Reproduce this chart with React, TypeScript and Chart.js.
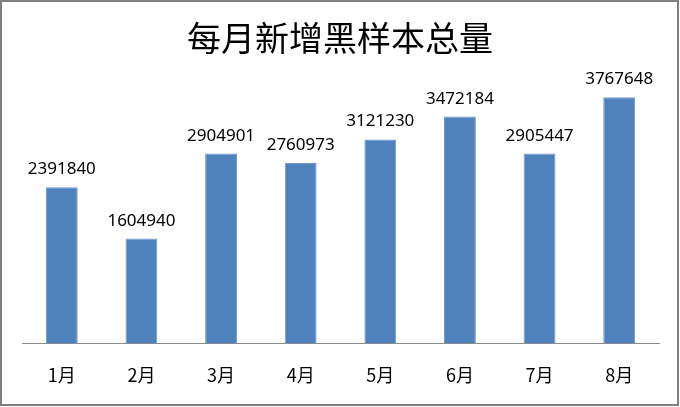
import React, { useEffect, useRef } from "react";
import { Chart, registerables } from "chart.js";

Chart.register(...registerables);

const categories = ["1月", "2月", "3月", "4月", "5月", "6月", "7月", "8月"];
const values = [2391840, 1604940, 2904901, 2760973, 3121230, 3472184, 2905447, 3767648];
const titleText = "每月新增黑样本总量";

const framePlugin = {
  id: "frame",
  beforeDraw(chart: any) {
    const ctx = chart.ctx;
    ctx.save();
    ctx.fillStyle = "#ffffff";
    ctx.fillRect(0, 0, chart.width, chart.height);
    ctx.restore();
  },
  afterDraw(chart: any) {
    const ctx = chart.ctx;
    ctx.save();
    ctx.strokeStyle = "#808080";
    ctx.lineWidth = 2;
    ctx.strokeRect(1, 1, chart.width - 3, chart.height - 3);
    ctx.fillStyle = "#000000";
    ctx.font = '34px "Noto Sans CJK SC"';
    ctx.textAlign = "center";
    ctx.textBaseline = "middle";
    ctx.fillText(titleText, chart.width / 2, 38);
    // data labels
    const meta = chart.getDatasetMeta(0);
    ctx.font = '17px "Noto Sans"';
    ctx.textBaseline = "alphabetic";
    meta.data.forEach((bar: any, i: number) => {
      ctx.fillText(String(values[i]), bar.x, bar.y - 13);
    });
    ctx.restore();
  },
};

export default function App() {
  const ref = useRef<HTMLCanvasElement | null>(null);
  useEffect(() => {
    document.body.style.margin = "0";
    const chart = new Chart(ref.current!, {
      type: "bar",
      data: {
        labels: categories,
        datasets: [
          {
            data: values,
            backgroundColor: "#4F81BD",
            borderColor: "#6f98cc",
            borderWidth: 1,
            categoryPercentage: 1,
            barPercentage: 0.4,
          },
        ],
      },
      options: {
        animation: false,
        responsive: false,
        devicePixelRatio: 1,
        layout: { padding: { left: 22, right: 21, top: 82, bottom: 0 } },
        plugins: { legend: { display: false }, title: { display: false }, tooltip: { enabled: false } },
        scales: {
          x: {
            grid: { display: false, drawTicks: false },
            border: { display: true, color: "#8c8c8c", width: 1 },
            ticks: { color: "#000", font: { family: '"Noto Sans CJK SC"', size: 18 }, padding: 21 },
            afterFit: (scale: any) => {
              scale.height = 63.5;
            },
          },
          y: { display: false, min: 0, max: 4000000 },
        },
      },
      plugins: [framePlugin],
    });
    return () => chart.destroy();
  }, []);
  return (
    <div style={{ position: "fixed", left: 0, top: 0, width: 680, height: 407 }}>
      <canvas ref={ref} width={680} height={407} style={{ display: "block" }} />
    </div>
  );
}
